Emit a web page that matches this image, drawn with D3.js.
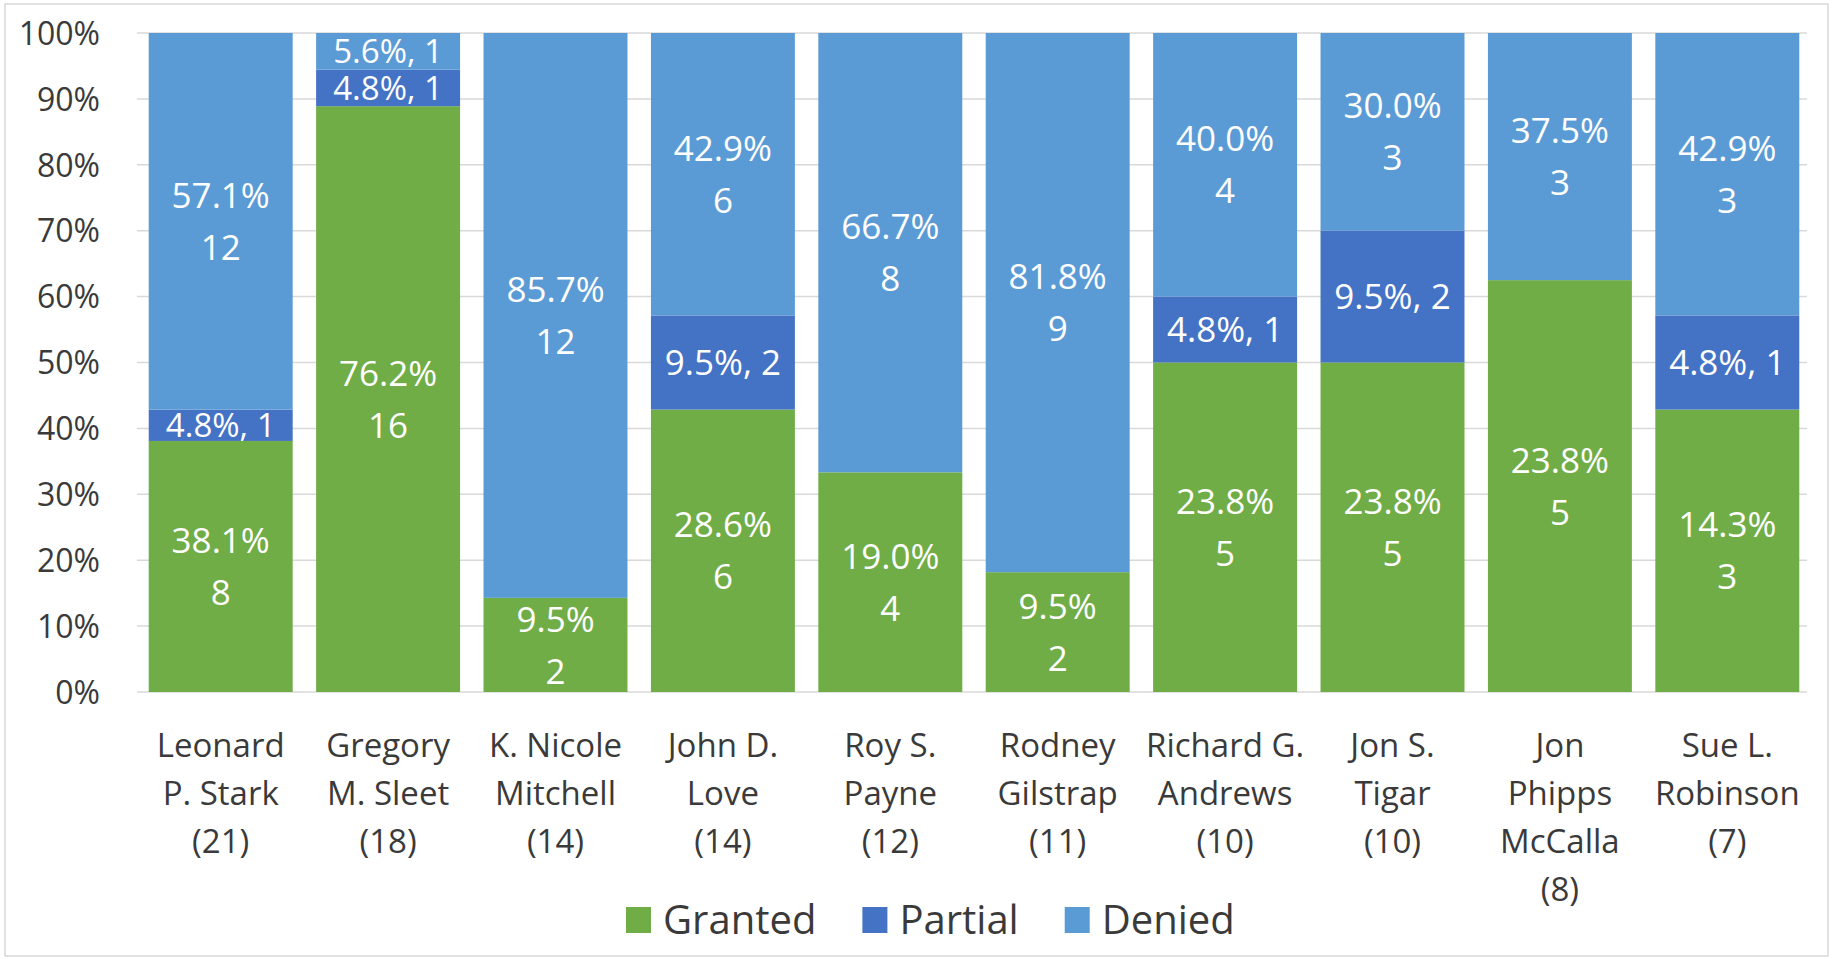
<!DOCTYPE html>
<html>
<head>
<meta charset="utf-8">
<script src="https://cdn.jsdelivr.net/npm/d3@7"></script>
<style>
  body { margin: 0; background: #fff; }
  text { font-family: "Open Sans", sans-serif; }
</style>
</head>
<body>
<div id="chart"></div>
<script>
// judges, label lines as printed under each bar
const judgeLines = [
  ["Leonard", "P. Stark", "(21)"],
  ["Gregory", "M. Sleet", "(18)"],
  ["K. Nicole", "Mitchell", "(14)"],
  ["John D.", "Love", "(14)"],
  ["Roy S.", "Payne", "(12)"],
  ["Rodney", "Gilstrap", "(11)"],
  ["Richard G.", "Andrews", "(10)"],
  ["Jon S.", "Tigar", "(10)"],
  ["Jon", "Phipps", "McCalla", "(8)"],
  ["Sue L.", "Robinson", "(7)"]
]

const granted = [8, 16, 2, 6, 4, 2, 5, 5, 5, 3]
const partial = [1, 1, 0, 2, 0, 0, 1, 2, 0, 1]
const denied = [12, 1, 12, 6, 8, 9, 4, 3, 3, 3]

// percentage labels exactly as printed in the chart
const grantedPct = ["38.1%", "76.2%", "9.5%", "28.6%", "19.0%", "9.5%", "23.8%", "23.8%", "23.8%", "14.3%"]
const partialPct = ["4.8%", "4.8%", "", "9.5%", "", "", "4.8%", "9.5%", "", "4.8%"]
const deniedPct = ["57.1%", "5.6%", "85.7%", "42.9%", "66.7%", "81.8%", "40.0%", "30.0%", "37.5%", "42.9%"]

const seriesNames = ["Granted", "Partial", "Denied"]
const seriesColors = ["#70ad47", "#4472c4", "#5b9bd5"]
const yTicks = [0, 0.1, 0.2, 0.3, 0.4, 0.5, 0.6, 0.7, 0.8, 0.9, 1]

const W = 1833, H = 959
const margin = { top: 33, right: 22, bottom: 267, left: 137 }
const innerW = W - margin.left - margin.right
const innerH = H - margin.top - margin.bottom

const svg = d3.select("#chart").append("svg")
  .attr("width", W)
  .attr("height", H)

svg.append("rect")
  .attr("x", 5).attr("y", 4)
  .attr("width", W - 10).attr("height", H - 7)
  .attr("fill", "#fff")
  .attr("stroke", "#d9d9d9")
  .attr("stroke-width", 1.5)

const g = svg.append("g").attr("transform", `translate(${margin.left},${margin.top})`)

const rows = judgeLines.map((lines, i) => {
  const total = granted[i] + partial[i] + denied[i]
  return {
    key: i,
    Granted: granted[i] / total,
    Partial: partial[i] / total,
    Denied: denied[i] / total,
    counts: { Granted: granted[i], Partial: partial[i], Denied: denied[i] },
    pcts: { Granted: grantedPct[i], Partial: partialPct[i], Denied: deniedPct[i] }
  }
})

const x = d3.scaleBand()
  .domain(rows.map(d => d.key))
  .range([0, innerW])
  .paddingInner(0.14)
  .paddingOuter(0.07)

const y = d3.scaleLinear().domain([0, 1]).range([innerH, 0])

// gridlines
g.append("g")
  .selectAll("line")
  .data(yTicks)
  .enter()
  .append("line")
  .attr("x1", 0).attr("x2", innerW - 4)
  .attr("y1", d => y(d)).attr("y2", d => y(d))
  .attr("stroke", "#d9d9d9")
  .attr("stroke-width", 1.5)

// y axis labels
const yAxis = g.append("g")
  .attr("transform", "translate(-37,0)")
  .call(d3.axisLeft(y).tickValues(yTicks).tickFormat(d3.format(".0%")).tickSize(0))
yAxis.select(".domain").remove()
yAxis.selectAll("text")
  .attr("x", 0)
  .attr("dy", "0.35em")
  .style("font-size", "32px")
  .style("fill", "#3a3a3a")
  .style("font-family", "'Open Sans', sans-serif")

const stacked = d3.stack().keys(seriesNames)(rows)

const layer = g.selectAll(".layer")
  .data(stacked)
  .enter()
  .append("g")
  .attr("fill", (d, i) => seriesColors[i])

layer.selectAll("rect")
  .data(d => d.map(p => Object.assign(p, { series: d.key })))
  .enter()
  .append("rect")
  .attr("x", d => x(d.data.key))
  .attr("width", x.bandwidth())
  .attr("y", d => y(d[1]))
  .attr("height", d => y(d[0]) - y(d[1]))

// data labels
const labelData = []
stacked.forEach(s => {
  s.forEach(p => {
    const n = p.data.counts[s.key]
    if (n === 0) return
    const h = y(p[0]) - y(p[1])
    const pct = p.data.pcts[s.key]
    const lines = (s.key === "Partial" || h < 60) ? [`${pct}, ${n}`] : [pct, String(n)]
    labelData.push({ cx: x(p.data.key) + x.bandwidth() / 2, cy: (y(p[0]) + y(p[1])) / 2, lines, small: h < 60 })
  })
})

const lineH = 52
const labels = g.selectAll(".dlabel")
  .data(labelData)
  .enter()
  .append("text")
  .attr("class", "dlabel")
  .attr("text-anchor", "middle")
  .style("font-size", d => d.small ? "33px" : "35px")
  .style("fill", "#ffffff")

labels.selectAll("tspan")
  .data(d => d.lines.map((t, i) => ({ t, i, d })))
  .enter()
  .append("tspan")
  .attr("x", d => d.d.cx)
  .attr("y", d => d.d.cy - (d.d.lines.length - 1) * lineH / 2 + d.i * lineH)
  .attr("dy", "0.36em")
  .text(d => d.t)

// category labels
const cat = g.selectAll(".cat")
  .data(judgeLines)
  .enter()
  .append("text")
  .attr("class", "cat")
  .attr("text-anchor", "middle")
  .style("font-size", "33px")
  .style("fill", "#3a3a3a")

cat.selectAll("tspan")
  .data((d, i) => d.map((t, j) => ({ t, j, i })))
  .enter()
  .append("tspan")
  .attr("x", d => x(d.i) + x.bandwidth() / 2)
  .attr("y", d => innerH + 65 + d.j * 48)
  .text(d => d.t)

// legend
const legend = svg.append("g").attr("transform", "translate(626,920)")
let lx = 0
seriesNames.forEach((name, i) => {
  const item = legend.append("g").attr("transform", `translate(${lx},0)`)
  item.append("rect")
    .attr("x", 0).attr("y", -13)
    .attr("width", 25).attr("height", 26)
    .attr("fill", seriesColors[i])
  const t = item.append("text")
    .attr("x", 37)
    .attr("dy", "0.36em")
    .style("font-size", "40px")
    .style("fill", "#3a3a3a")
    .text(name)
  lx += 37 + t.node().getComputedTextLength() + 46
})
</script>
</body>
</html>
